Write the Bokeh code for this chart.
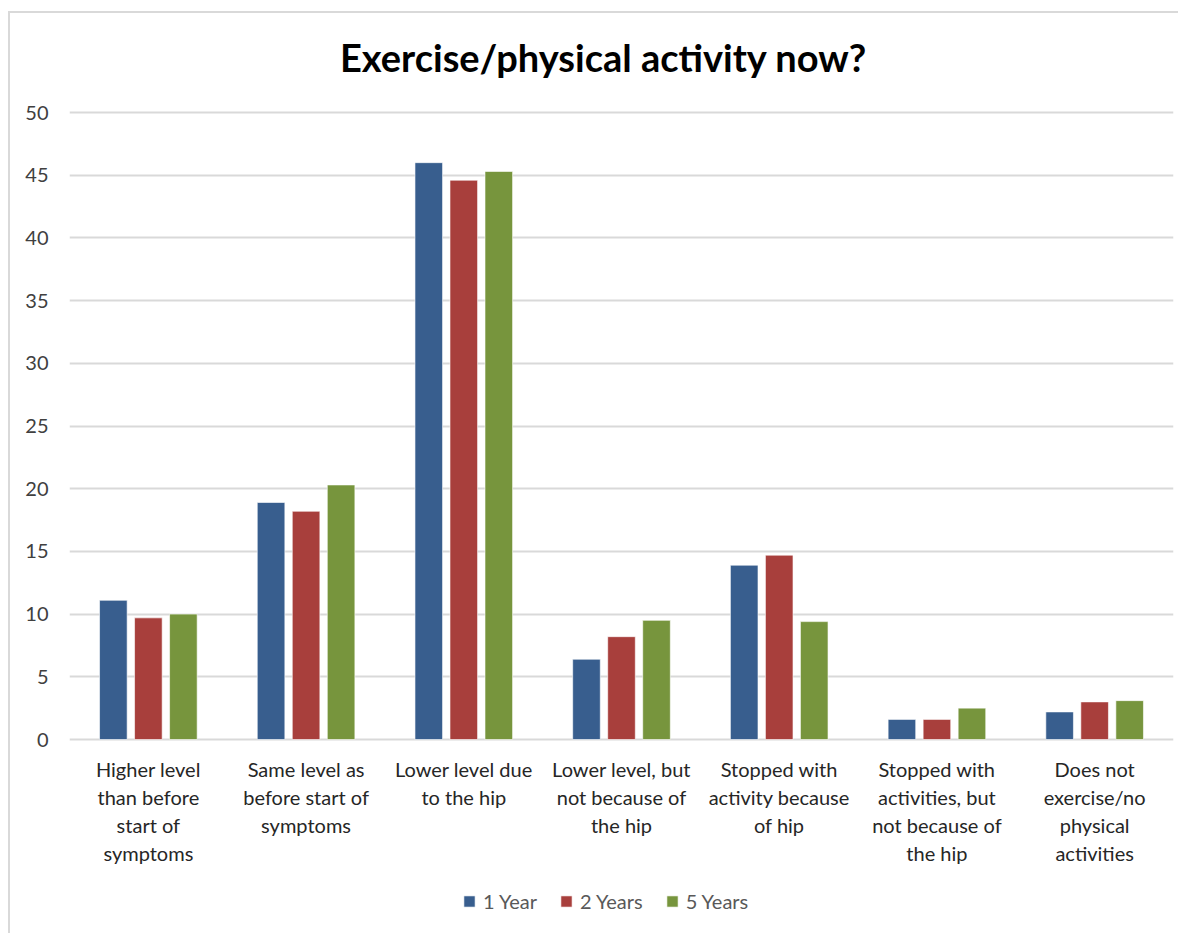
from bokeh.plotting import figure
from bokeh.models import (ColumnDataSource, Legend, LegendItem, FactorRange,
                          FixedTicker, Range1d)
from bokeh.core.properties import value
from bokeh.transform import dodge
from bokeh.embed import file_html
from bokeh.resources import INLINE

TITLE = "Exercise/physical activity now?"

# Response categories (line breaks as they appear under the bars)
categories = [
    "Higher level\nthan before\nstart of\nsymptoms",
    "Same level as\nbefore start of\nsymptoms",
    "Lower level due\nto the hip",
    "Lower level, but\nnot because of\nthe hip",
    "Stopped with\nactivity because\nof hip",
    "Stopped with\nactivities, but\nnot because of\nthe hip",
    "Does not\nexercise/no\nphysical\nactivities",
]

# Share of patients (%) per follow-up time
year_1 = [11.1, 18.9, 46.0, 6.4, 13.9, 1.6, 2.2]
years_2 = [9.7, 18.2, 44.6, 8.2, 14.7, 1.6, 3.0]
years_5 = [10.0, 20.3, 45.3, 9.5, 9.4, 2.5, 3.1]

y_ticks = [0, 5, 10, 15, 20, 25, 30, 35, 40, 45, 50]

series_names = ["1 Year", "2 Years", "5 Years"]
series_keys = ["y1", "y2", "y5"]
colors = ["#385e8e", "#a83f3c", "#77953d"]

source = ColumnDataSource(dict(cat=categories, y1=year_1, y2=years_2, y5=years_5))

FONT = "Lato"

# Value axis geometry: 0..50 spans 627 px; the frame also holds the title
# above and the category labels and legend below.
Y_MAX = y_ticks[-1]
PX_PER_UNIT = 627 / Y_MAX
ABOVE_PX = 99
BELOW_PX = 194
FRAME_H = 627 + ABOVE_PX + BELOW_PX

p = figure(
    x_range=FactorRange(*categories, range_padding=0),
    y_range=Range1d(-BELOW_PX / PX_PER_UNIT, Y_MAX + ABOVE_PX / PX_PER_UNIT),
    frame_width=1104, frame_height=FRAME_H,
    output_backend="svg", toolbar_location=None,
    min_border_left=59, min_border_right=5,
    min_border_top=0, min_border_bottom=0,
)
p.margin = (11, 0, 0, 8)
p.styles = {"border-left": "2px solid #d9d9d9", "border-top": "2px solid #d9d9d9"}

offsets = [-0.222, 0.0, 0.222]
renderers = []
for key, off, col in zip(series_keys, offsets, colors):
    r = p.vbar(x=dodge("cat", off, range=p.x_range), top=key, width=0.175,
               source=source, fill_color=col, line_color="#ffffff",
               line_alpha=0.6, line_width=1)
    renderers.append(r)

# Chart title, centred over the chart
p.text(x=[categories[3]], y=[Y_MAX], text=[TITLE], x_offset=-18, y_offset=-56,
       text_align="center", text_baseline="alphabetic",
       text_font=value(FONT), text_font_size="38px", text_font_style="bold",
       text_color="#000000")

# Category labels under the bars
p.text(x="cat", y=0, text="cat", source=source, y_offset=17,
       text_align="center", text_baseline="top", text_line_height=1.17,
       text_font=value(FONT), text_font_size="20px", text_color="#262626")

legend = Legend(
    items=[LegendItem(label=n, renderers=[r]) for n, r in zip(series_names, renderers)],
    orientation="horizontal", location=(393, 20),
    label_text_font=FONT, label_text_font_size="20px", label_text_color="#595959",
    glyph_width=14, glyph_height=14, label_standoff=7, spacing=22,
    border_line_color=None, background_fill_alpha=0, margin=0, padding=4,
)
p.add_layout(legend, "center")

p.xaxis.visible = False

p.yaxis.ticker = FixedTicker(ticks=y_ticks)
p.yaxis.axis_line_color = None
p.yaxis.major_tick_line_color = None
p.yaxis.minor_tick_line_color = None
p.yaxis.major_label_standoff = 15
p.yaxis.major_label_text_font = FONT
p.yaxis.major_label_text_font_size = "20px"
p.yaxis.major_label_text_color = "#404040"

p.xgrid.grid_line_color = None
p.ygrid.ticker = FixedTicker(ticks=y_ticks)
p.ygrid.grid_line_color = "#d9d9d9"
p.ygrid.grid_line_width = 2
p.outline_line_color = None

open("out.html", "w").write(file_html(p, INLINE))
